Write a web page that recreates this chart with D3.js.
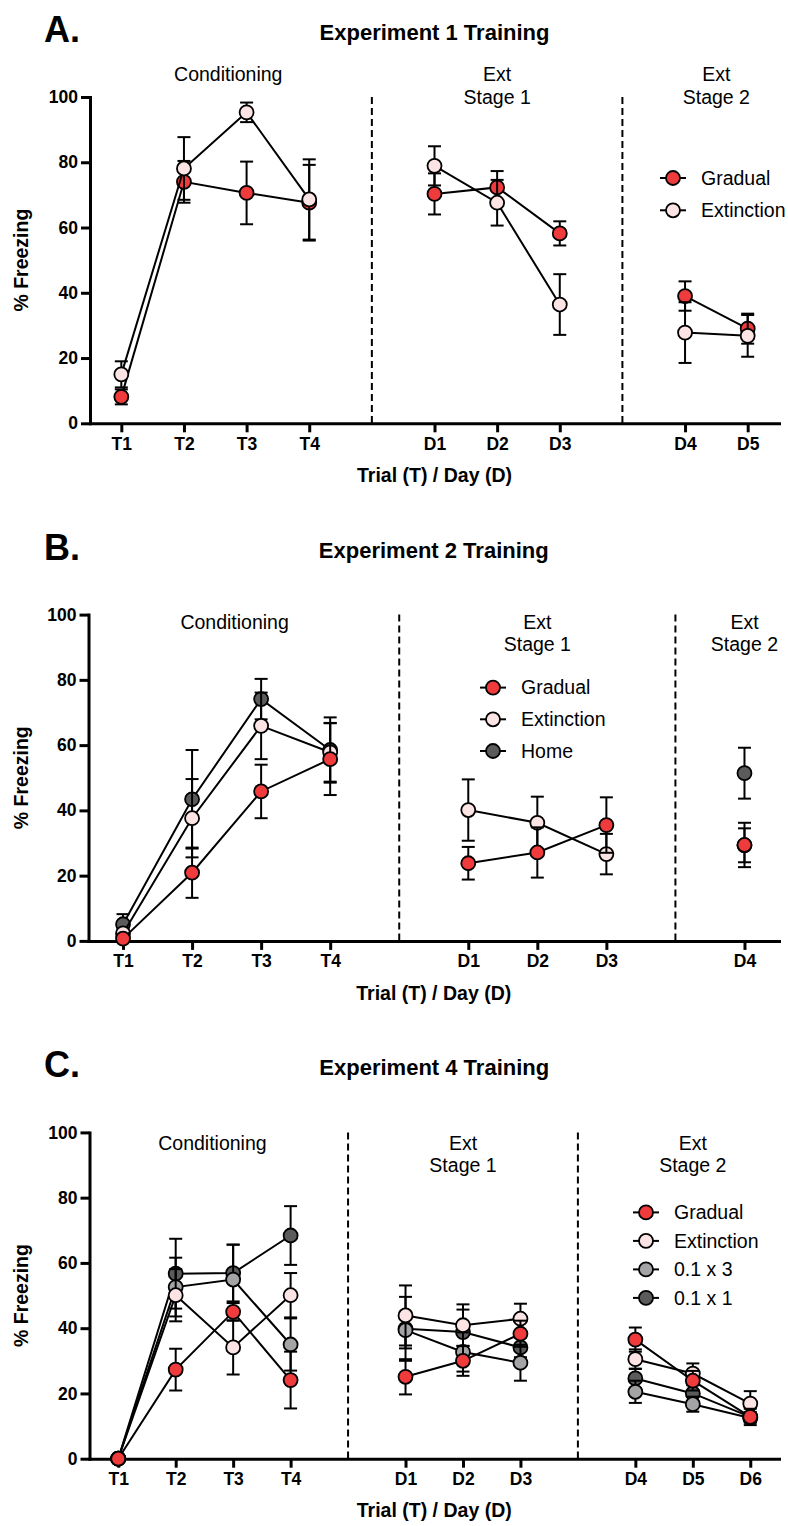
<!DOCTYPE html>
<html><head><meta charset="utf-8">
<script src="https://cdn.jsdelivr.net/npm/d3@7"></script>
<style>body{margin:0;background:#fff} svg{display:block} text{font-family:"Liberation Sans",Arial,Helvetica,sans-serif;fill:#000}</style>
</head><body><svg id="c" width="788" height="1526"></svg>
<script>
// ---------- data ----------
const panelLetters = ["A.", "B.", "C."];
const panelTitles = ["Experiment 1 Training", "Experiment 2 Training", "Experiment 4 Training"];
const sectionNames = [["Conditioning"], ["Ext", "Stage 1"], ["Ext", "Stage 2"]];
const yTicks = [0, 20, 40, 60, 80, 100];
const yTitle = "% Freezing";
const xTitle = "Trial (T) / Day (D)";

// Panel A – Experiment 1
const catsA = ["T1", "T2", "T3", "T4", "D1", "D2", "D3", "D4", "D5"];
const segsA = [0, 0, 0, 0, 1, 1, 1, 2, 2];
const gradualA = [8.1, 74.0, 70.6, 67.6, 70.3, 72.3, 58.2, 39.0, 29.0];
const gradualSemA = [2.3, 6.4, 9.6, 11.6, 6.3, 5.0, 3.7, 4.5, 4.6];
const extinctionA = [15.0, 78.1, 95.3, 68.6, 78.9, 67.6, 36.4, 27.8, 26.8];
const extinctionSemA = [4.0, 9.6, 3.0, 12.3, 6.0, 7.0, 9.3, 9.3, 6.4];

// Panel B – Experiment 2
const catsB = ["T1", "T2", "T3", "T4", "D1", "D2", "D3", "D4"];
const segsB = [0, 0, 0, 0, 1, 1, 1, 2];
const gradualB = [0.7, 20.9, 45.8, 55.7, 23.8, 27.1, 35.5, 29.4];
const gradualSemB = [0.5, 7.7, 8.2, 11.0, 5.0, 7.7, 8.5, 6.8];
const extinctionB = [2.3, 37.6, 65.9, 57.8, 40.1, 36.2, 26.6, 29.3];
const extinctionSemB = [1.5, 12.0, 10.2, 9.0, 9.4, 8.0, 6.2, 5.2];
const homeB = [5.1, 43.4, 74.1, 58.5, null, null, null, 51.4];
const homeSemB = [3.1, 15.1, 6.2, 10.0, null, null, null, 7.8];

// Panel C – Experiment 4
const catsC = ["T1", "T2", "T3", "T4", "D1", "D2", "D3", "D4", "D5", "D6"];
const segsC = [0, 0, 0, 0, 1, 1, 1, 2, 2, 2];
const gradualC = [0, 27.3, 45.0, 24.1, 25.1, 30.0, 38.3, 36.5, 23.9, 12.8];
const gradualSemC = [0, 6.4, 2.7, 8.7, 5.4, 4.6, 4.0, 3.7, 3.0, 2.5];
const extinctionC = [0, 50.1, 34.1, 50.1, 43.9, 40.9, 42.9, 30.5, 26.1, 16.9];
const extinctionSemC = [0, 8.0, 8.3, 6.8, 9.2, 6.4, 4.6, 3.0, 3.1, 3.8];
const x3C = [0, 52.6, 54.9, 35.0, 39.4, 32.7, 29.4, 20.5, 16.7, 12.5];
const x3SemC = [0, 9.0, 10.7, 8.0, 5.6, 6.0, 5.5, 3.4, 2.3, 1.5];
const x1C = [0, 56.7, 56.9, 68.4, 39.8, 38.8, 34.1, 24.6, 20.0, 12.8];
const x1SemC = [0, 10.7, 8.7, 9.0, 9.8, 6.9, 3.0, 3.0, 2.5, 1.5];

// ---------- styles / layout ----------
const fills = {"Gradual": "#f03b3d", "Extinction": "#fde4e4", "Home": "#5b5b5b", "0.1 x 3": "#a4a4a7", "0.1 x 1": "#5b5b5b"};

const panels = [
  {cats: catsA, segs: segsA, off: 0, x0: 90, secY: 81, condDx: 13,
   draw: [["Gradual", gradualA, gradualSemA], ["Extinction", extinctionA, extinctionSemA]],
   legend: ["Gradual", "Extinction"], legX: 673, legY: 178, legStep: 32.3},
  {cats: catsB, segs: segsB, off: 517.6, x0: 88.5, secY: 111, condDx: 8,
   draw: [["Home", homeB, homeSemB], ["Extinction", extinctionB, extinctionSemB], ["Gradual", gradualB, gradualSemB]],
   legend: ["Gradual", "Extinction", "Home"], legX: 493, legY: 170, legStep: 31.7},
  {cats: catsC, segs: segsC, off: 1035.4, x0: 89.5, secY: 114.5, condDx: 8,
   draw: [["0.1 x 1", x1C, x1SemC], ["0.1 x 3", x3C, x3SemC], ["Extinction", extinctionC, extinctionSemC], ["Gradual", gradualC, gradualSemC]],
   legend: ["Gradual", "Extinction", "0.1 x 3", "0.1 x 1"], legX: 646, legY: 177, legStep: 28.5}
];

const svg = d3.select("#c");
const R = 7;

panels.forEach((p, i) => {
  const g = svg.append("g").attr("transform", `translate(0,${p.off})`);
  const nSeg = d3.max(p.segs) + 1;
  const domain = [];
  for (let s = 0; s < nSeg; s++) {
    if (s > 0) domain.push("gap" + s);
    p.cats.forEach((c, k) => { if (p.segs[k] === s) domain.push(c); });
  }
  const x = d3.scalePoint().domain(domain).range([p.x0, 779]).padding(0.5);
  const y = d3.scaleLinear().domain([0, 100]).range([423.3, 97]);

  // panel letter and title
  g.append("text").attr("x", 44).attr("y", 42).attr("font-size", 36).attr("font-weight", "bold").text(panelLetters[i]);
  g.append("text").attr("x", (p.x0 + 779) / 2).attr("y", 40).attr("text-anchor", "middle")
    .attr("font-size", 22).attr("font-weight", "bold").text(panelTitles[i]);

  // dashed separators
  for (let s = 1; s < nSeg; s++) {
    g.append("line").attr("x1", x("gap" + s)).attr("x2", x("gap" + s))
      .attr("y1", y(100)).attr("y2", y(0))
      .attr("stroke", "#000").attr("stroke-width", 2).attr("stroke-dasharray", "7,4");
  }

  // section labels
  for (let s = 0; s < nSeg; s++) {
    const cs = p.cats.filter((c, k) => p.segs[k] === s);
    let cx = (x(cs[0]) + x(cs[cs.length - 1])) / 2;
    if (s === 0) cx += p.condDx;
    const lines = sectionNames[s];
    const t = g.append("text").attr("text-anchor", "middle").attr("font-size", 19.5).attr("x", cx).attr("y", p.secY);
    lines.forEach((ln, li) => t.append("tspan").attr("x", cx).attr("dy", li === 0 ? 0 : 22.5).text(ln));
  }

  // axes
  const ya = g.append("g").attr("transform", `translate(${p.x0},0)`)
    .call(d3.axisLeft(y).tickValues(yTicks).tickSize(9).tickSizeOuter(0).tickPadding(3));
  const xa = g.append("g").attr("transform", `translate(0,${y(0)})`)
    .call(d3.axisBottom(x).tickValues(p.cats).tickSize(9).tickSizeOuter(0).tickPadding(5));
  [ya, xa].forEach(a => {
    a.select(".domain").attr("stroke", "#000").attr("stroke-width", 3).attr("stroke-linecap", "square");
    a.selectAll(".tick line").attr("stroke", "#000").attr("stroke-width", 3);
    a.selectAll(".tick text").attr("font-size", 17.5).attr("font-weight", "bold")
      .attr("font-family", '"Liberation Sans",Arial,sans-serif').attr("fill", "#000");
  });

  // axis titles
  g.append("text").attr("transform", `translate(28,${(y(0) + y(100)) / 2}) rotate(-90)`)
    .attr("text-anchor", "middle").attr("font-size", 19.5).attr("font-weight", "bold").text(yTitle);
  g.append("text").attr("x", (p.x0 + 779) / 2).attr("y", 482).attr("text-anchor", "middle")
    .attr("font-size", 19.5).attr("font-weight", "bold").text(xTitle);

  // series
  p.draw.forEach(([name, vals, sems]) => {
    const sg = g.append("g");
    const pts = p.cats.map((c, k) => ({c, v: vals[k], e: sems[k], s: p.segs[k]})).filter(d => d.v !== null);
    pts.filter(d => d.e > 0).forEach(d => {
      const cx = x(d.c);
      sg.append("line").attr("x1", cx).attr("x2", cx).attr("y1", y(d.v - d.e)).attr("y2", y(d.v + d.e))
        .attr("stroke", "#000").attr("stroke-width", 2);
      [d.v - d.e, d.v + d.e].forEach(v => sg.append("line").attr("x1", cx - 6.5).attr("x2", cx + 6.5)
        .attr("y1", y(v)).attr("y2", y(v)).attr("stroke", "#000").attr("stroke-width", 2));
    });
    for (let s = 0; s < nSeg; s++) {
      const sp = pts.filter(d => d.s === s);
      if (sp.length > 1) sg.append("path").attr("fill", "none").attr("stroke", "#000").attr("stroke-width", 2)
        .attr("d", d3.line().x(d => x(d.c)).y(d => y(d.v))(sp));
    }
    sg.selectAll("circle").data(pts).join("circle")
      .attr("cx", d => x(d.c)).attr("cy", d => y(d.v)).attr("r", R)
      .attr("fill", fills[name]).attr("stroke", "#000").attr("stroke-width", 1.8);
  });

  // legend
  p.legend.forEach((name, k) => {
    const ly = p.legY + k * p.legStep;
    g.append("line").attr("x1", p.legX - 13).attr("x2", p.legX + 13).attr("y1", ly).attr("y2", ly)
      .attr("stroke", "#000").attr("stroke-width", 2);
    g.append("circle").attr("cx", p.legX).attr("cy", ly).attr("r", R)
      .attr("fill", fills[name]).attr("stroke", "#000").attr("stroke-width", 1.8);
    g.append("text").attr("x", p.legX + 28).attr("y", ly).attr("dy", "0.35em").attr("font-size", 19.5).text(name);
  });
});
</script></body></html>
